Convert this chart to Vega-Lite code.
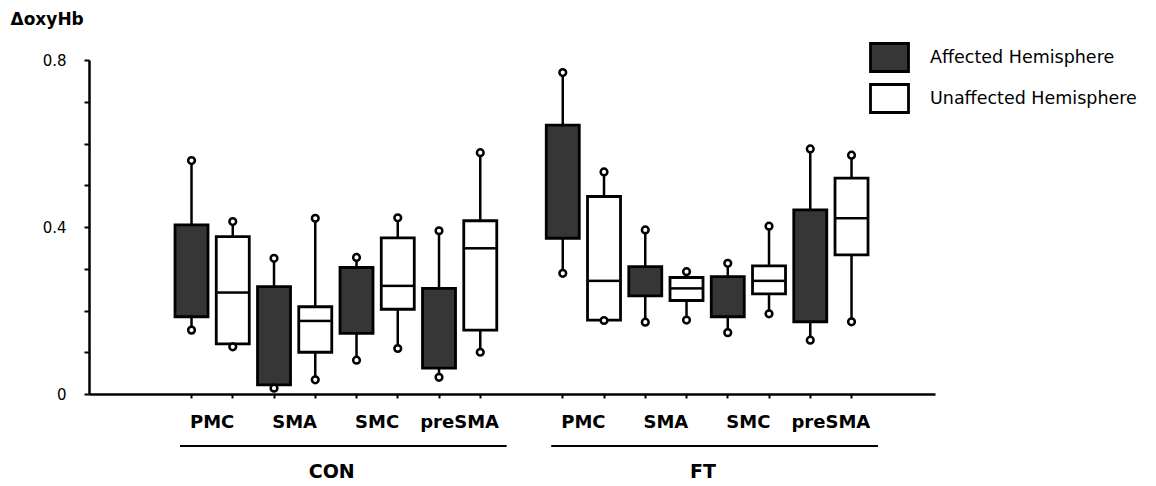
{
  "$schema": "https://vega.github.io/schema/vega-lite/v6.json",
  "width": 846,
  "height": 334,
  "autosize": {"type": "none"},
  "padding": {"left": 89, "top": 60, "right": 221, "bottom": 92},
  "config": {"view": {"stroke": null}, "font": "DejaVu Sans", "axis": {"grid": false}},
  "datasets": {
    "boxes": [
      {"box": "CON-PMC-A", "group": "CON", "region": "PMC", "hemisphere": "Affected Hemisphere", "min": 0.153, "q1": 0.185, "median": null, "q3": 0.405, "max": 0.559},
      {"box": "CON-PMC-U", "group": "CON", "region": "PMC", "hemisphere": "Unaffected Hemisphere", "min": 0.113, "q1": 0.12, "median": 0.243, "q3": 0.377, "max": 0.413},
      {"box": "CON-SMA-A", "group": "CON", "region": "SMA", "hemisphere": "Affected Hemisphere", "min": 0.014, "q1": 0.022, "median": null, "q3": 0.257, "max": 0.325},
      {"box": "CON-SMA-U", "group": "CON", "region": "SMA", "hemisphere": "Unaffected Hemisphere", "min": 0.034, "q1": 0.1, "median": 0.175, "q3": 0.209, "max": 0.421},
      {"box": "CON-SMC-A", "group": "CON", "region": "SMC", "hemisphere": "Affected Hemisphere", "min": 0.081, "q1": 0.145, "median": null, "q3": 0.303, "max": 0.327},
      {"box": "CON-SMC-U", "group": "CON", "region": "SMC", "hemisphere": "Unaffected Hemisphere", "min": 0.109, "q1": 0.203, "median": 0.259, "q3": 0.374, "max": 0.422},
      {"box": "CON-preSMA-A", "group": "CON", "region": "preSMA", "hemisphere": "Affected Hemisphere", "min": 0.04, "q1": 0.062, "median": null, "q3": 0.253, "max": 0.391},
      {"box": "CON-preSMA-U", "group": "CON", "region": "preSMA", "hemisphere": "Unaffected Hemisphere", "min": 0.1, "q1": 0.153, "median": 0.349, "q3": 0.415, "max": 0.578},
      {"box": "FT-PMC-A", "group": "FT", "region": "PMC", "hemisphere": "Affected Hemisphere", "min": 0.289, "q1": 0.373, "median": null, "q3": 0.644, "max": 0.77},
      {"box": "FT-PMC-U", "group": "FT", "region": "PMC", "hemisphere": "Unaffected Hemisphere", "min": 0.176, "q1": 0.177, "median": 0.271, "q3": 0.473, "max": 0.532},
      {"box": "FT-SMA-A", "group": "FT", "region": "SMA", "hemisphere": "Affected Hemisphere", "min": 0.172, "q1": 0.235, "median": null, "q3": 0.305, "max": 0.393},
      {"box": "FT-SMA-U", "group": "FT", "region": "SMA", "hemisphere": "Unaffected Hemisphere", "min": 0.177, "q1": 0.224, "median": 0.253, "q3": 0.279, "max": 0.293},
      {"box": "FT-SMC-A", "group": "FT", "region": "SMC", "hemisphere": "Affected Hemisphere", "min": 0.147, "q1": 0.185, "median": null, "q3": 0.281, "max": 0.313},
      {"box": "FT-SMC-U", "group": "FT", "region": "SMC", "hemisphere": "Unaffected Hemisphere", "min": 0.192, "q1": 0.24, "median": 0.271, "q3": 0.307, "max": 0.402},
      {"box": "FT-preSMA-A", "group": "FT", "region": "preSMA", "hemisphere": "Affected Hemisphere", "min": 0.129, "q1": 0.173, "median": null, "q3": 0.441, "max": 0.587},
      {"box": "FT-preSMA-U", "group": "FT", "region": "preSMA", "hemisphere": "Unaffected Hemisphere", "min": 0.173, "q1": 0.333, "median": 0.421, "q3": 0.517, "max": 0.572}
    ],
    "groups": [
      {"group": "CON", "first": "CON-PMC-A", "last": "CON-preSMA-U"},
      {"group": "FT", "first": "FT-PMC-A", "last": "FT-preSMA-U"}
    ]
  },
  "data": {"name": "boxes"},
  "encoding": {
    "x": {
      "field": "box",
      "type": "nominal",
      "title": null,
      "scale": {
        "type": "band",
        "domain": ["lead", "CON-PMC-A", "CON-PMC-U", "CON-SMA-A", "CON-SMA-U", "CON-SMC-A", "CON-SMC-U", "CON-preSMA-A", "CON-preSMA-U", "gap", "FT-PMC-A", "FT-PMC-U", "FT-SMA-A", "FT-SMA-U", "FT-SMC-A", "FT-SMC-U", "FT-preSMA-A", "FT-preSMA-U", "trail"],
        "paddingInner": 0.2,
        "paddingOuter": 0.8545,
        "align": 0.635
      },
      "axis": {
        "values": ["CON-PMC-A", "CON-PMC-U", "CON-SMA-A", "CON-SMA-U", "CON-SMC-A", "CON-SMC-U", "CON-preSMA-A", "CON-preSMA-U", "FT-PMC-A", "FT-PMC-U", "FT-SMA-A", "FT-SMA-U", "FT-SMC-A", "FT-SMC-U", "FT-preSMA-A", "FT-preSMA-U"],
        "labelExpr": "slice(datum.value, -2) == '-A' ? split(datum.value, '-')[1] : ''",
        "labelOffset": 20.6,
        "labelAngle": 0,
        "labelFont": "DejaVu Sans",
        "labelFontSize": 18,
        "labelFontWeight": "bold",
        "labelColor": "black",
        "labelPadding": 15,
        "labelOverlap": false,
        "labelBound": false,
        "tickSize": 4,
        "tickWidth": 2,
        "tickColor": "black",
        "domainWidth": 2.5,
        "domainColor": "black",
        "title": null
      }
    }
  },
  "layer": [
    {
      "mark": {"type": "rule", "color": "black", "strokeWidth": 2.5},
      "encoding": {
        "y": {
          "field": "min",
          "type": "quantitative",
          "title": "ΔoxyHb",
          "scale": {"domain": [0, 0.8], "nice": false, "zero": false},
          "axis": {
            "values": [0, 0.1, 0.2, 0.3, 0.4, 0.5, 0.6, 0.7, 0.8],
            "labelExpr": "datum.value == 0 ? '0' : datum.value == 0.4 ? '0.4' : datum.value == 0.8 ? '0.8' : ''",
            "tickSize": 5,
            "tickWidth": 2,
            "tickColor": "black",
            "domainWidth": 2.5,
            "domainColor": "black",
            "labelFont": "DejaVu Sans",
            "labelPadding": 18,
            "labelFontSize": 15,
            "labelDy": 4,
            "labelColor": "black",
            "title": "ΔoxyHb",
            "titleFont": "DejaVu Sans",
            "titleAngle": 0,
            "titleAlign": "left",
            "titleBaseline": "middle",
            "titleX": -79,
            "titleY": -41,
            "titleFontSize": 17,
            "titleFontWeight": "bold",
            "titleColor": "black",
            "grid": false
          }
        },
        "y2": {"field": "max"}
      }
    },
    {
      "mark": {"type": "bar", "stroke": "black", "strokeWidth": 2.8},
      "encoding": {
        "y": {"field": "q1", "type": "quantitative"},
        "y2": {"field": "q3"},
        "fill": {
          "field": "hemisphere",
          "type": "nominal",
          "scale": {"domain": ["Affected Hemisphere", "Unaffected Hemisphere"], "range": ["#363636", "#ffffff"]},
          "legend": {
            "orient": "none",
            "legendX": 780,
            "legendY": -23,
            "title": null,
            "symbolType": "M-1,-0.737H1V0.737H-1Z",
            "symbolSize": 1444,
            "symbolStrokeColor": "black",
            "symbolStrokeWidth": 2.8,
            "symbolOpacity": 1,
            "labelFont": "DejaVu Sans",
            "labelFontSize": 17.5,
            "labelLimit": 400,
            "labelColor": "black",
            "labelOffset": 20,
            "rowPadding": -5,
            "padding": 0
          }
        }
      }
    },
    {
      "mark": {"type": "tick", "color": "black", "opacity": 1, "thickness": 2.5, "size": 31},
      "encoding": {
        "y": {"field": "median", "type": "quantitative"}
      }
    },
    {
      "mark": {"type": "point", "shape": "circle", "filled": true, "fill": "white", "stroke": "black", "strokeWidth": 2.5, "size": 45, "opacity": 1},
      "encoding": {
        "y": {"field": "min", "type": "quantitative"}
      }
    },
    {
      "mark": {"type": "point", "shape": "circle", "filled": true, "fill": "white", "stroke": "black", "strokeWidth": 2.5, "size": 45, "opacity": 1},
      "encoding": {
        "y": {"field": "max", "type": "quantitative"}
      }
    },
    {
      "data": {"name": "groups"},
      "mark": {"type": "rule", "color": "black", "strokeWidth": 2.2},
      "encoding": {
        "x": {"field": "first", "type": "nominal", "bandPosition": 0.15, "title": null},
        "x2": {"field": "last", "bandPosition": 1.3},
        "y": {"datum": -0.1245}
      }
    },
    {
      "transform": [{"filter": "datum.region == 'SMA' && datum.hemisphere == 'Unaffected Hemisphere'"}],
      "mark": {"type": "text", "font": "DejaVu Sans", "fontSize": 19, "fontWeight": "bold", "color": "black", "baseline": "middle", "align": "center"},
      "encoding": {
        "x": {"field": "box", "type": "nominal", "bandPosition": 1.0, "title": null},
        "y": {"datum": -0.187},
        "text": {"field": "group"}
      }
    }
  ]
}
